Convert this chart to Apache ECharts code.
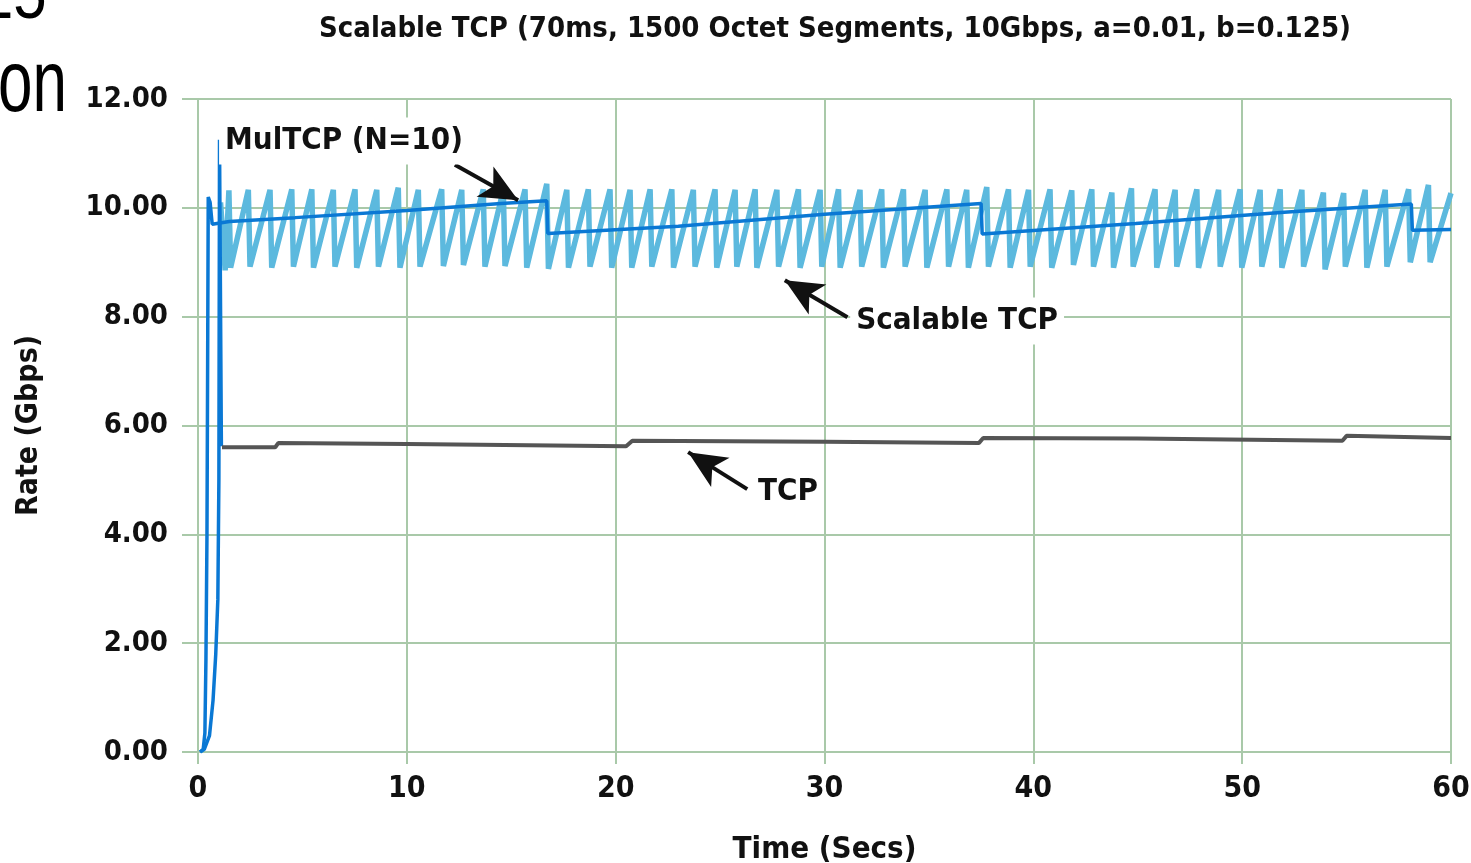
<!DOCTYPE html>
<html><head><meta charset="utf-8">
<script src="https://cdn.jsdelivr.net/npm/echarts@6/dist/echarts.min.js"></script>
<style>html,body{margin:0;padding:0;background:#fff}#c{width:1471px;height:863px}</style>
</head><body><div id="c"></div>
<script>
// ---- data ----
const xTicks = [0, 10, 20, 30, 40, 50, 60];
const yTicks = [0, 2, 4, 6, 8, 10, 12];

// MulTCP (N=10) aggregate rate [time s, Gbps]
const mulTcp = [[0.1,0],[0.25,0.05],[0.33,0.35],[0.38,1.7],[0.43,4.0],[0.46,7.0],[0.49,10.2],
  [0.58,10.1],[0.68,9.7],[1.5,9.75],[4.65,9.82],[10,9.95],[14.5,10.08],[16.7,10.13],
  [16.75,9.53],[23,9.66],[30,9.88],[37.5,10.08],[37.55,9.52],[44.9,9.71],[52,9.92],[58.1,10.07],
  [58.15,9.59],[60,9.6]];

// TCP slow-start overshoot (drawn in blue)
const tcpStart = [[0.1,0],[0.3,0.05],[0.55,0.3],[0.72,0.95],[0.85,1.8],[0.95,2.8],[1.0,5.0],
  [1.03,11.25],[1.07,11.25],[1.12,5.62]];

// TCP steady state
const tcp = [[1.15,5.6],[3.7,5.6],[3.85,5.68],[10,5.66],[20.5,5.62],[20.8,5.72],[30,5.7],
  [37.4,5.68],[37.6,5.77],[45,5.76],[54.8,5.72],[55.0,5.81],[60,5.77]];

// Scalable TCP sawtooth: start, peaks, troughs, end
const scalableStart = [[1.08,10.1],[1.3,8.85]];
const scalablePeaks = [[1.48,10.32],[2.41,10.33],[3.45,10.33],[4.49,10.34],[5.45,10.34],[6.48,10.33],
  [7.52,10.34],[8.56,10.33],[9.59,10.37],[10.55,10.33],[11.67,10.34],[12.63,10.33],[13.66,10.34],
  [14.62,10.33],[15.66,10.34],[16.70,10.44],[17.66,10.33],[18.69,10.34],[19.73,10.34],[20.69,10.33],
  [21.65,10.34],[22.69,10.34],[23.72,10.33],[24.76,10.34],[25.72,10.33],[26.68,10.34],[27.72,10.33],
  [28.75,10.34],[29.79,10.33],[30.67,10.34],[31.70,10.33],[32.74,10.34],[33.78,10.34],[34.82,10.33],
  [35.86,10.34],[36.81,10.33],[37.77,10.38],[38.81,10.34],[39.77,10.33],[40.80,10.34],[41.84,10.32],
  [42.80,10.34],[43.76,10.28],[44.70,10.36],[45.83,10.34],[46.79,10.33],[47.83,10.34],[48.87,10.33],
  [49.90,10.34],[50.86,10.33],[51.82,10.34],[52.86,10.33],[53.89,10.28],[54.86,10.27],[55.89,10.33],
  [56.85,10.33],[57.97,10.34],[58.92,10.42]];
const scalableTroughs = [[1.56,8.9],[2.49,8.92],[3.53,8.9],[4.57,8.92],[5.53,8.9],[6.56,8.92],
  [7.6,8.9],[8.64,8.92],[9.67,8.9],[10.63,8.92],[11.75,8.93],[12.71,8.95],[13.74,8.92],
  [14.7,8.93],[15.74,8.9],[16.78,8.88],[17.74,8.9],[18.77,8.92],[19.81,8.9],[20.77,8.9],
  [21.73,8.92],[22.77,8.9],[23.8,8.92],[24.84,8.9],[25.8,8.92],[26.76,8.9],[27.8,8.92],
  [28.83,8.9],[29.87,8.92],[30.75,8.9],[31.78,8.92],[32.82,8.9],[33.86,8.92],[34.9,8.9],
  [35.94,8.92],[36.89,8.9],[37.85,8.92],[38.89,8.9],[39.85,8.92],[40.88,8.9],[41.92,8.95],
  [42.88,8.92],[43.84,8.9],[44.78,8.92],[45.91,8.9],[46.87,8.92],[47.91,8.9],[48.95,8.92],
  [49.98,8.9],[50.94,8.92],[51.9,8.9],[52.94,8.92],[53.97,8.87],[54.94,8.92],[55.97,8.9],
  [56.93,8.92],[58.05,9.0],[59.0,9.0]];
const scalableEnd = [[60,10.27]];

// ---- build ----
const scalable = scalableStart.concat(scalablePeaks, scalableTroughs, scalableEnd)
  .sort((a, b) => a[0] - b[0]);

const FONT = "'Liberation Sans Narrow','DejaVu Sans Condensed','Roboto Condensed','Arial Narrow','Liberation Sans',sans-serif";
const GRID = '#a9c9a9';
const INK = '#111';

const chart = echarts.init(document.getElementById('c'), null, {renderer: 'canvas'});

const arrowLine = (from, to) => [{coord: from}, {coord: to}];
const tag = (name, coord) => ({
  name, coord, value: name,
  symbol: 'rect', symbolSize: 1, itemStyle: {color: 'rgba(0,0,0,0)'},
  label: {show: true, position: 'inside', formatter: name, color: INK,
    fontFamily: FONT, fontWeight: 'bold', fontSize: 31, backgroundColor: '#fff', padding: [8, 6]}
});

chart.setOption({
  animation: false,
  backgroundColor: '#fff',
  title: {
    text: 'Scalable TCP (70ms, 1500 Octet Segments, 10Gbps, a=0.01, b=0.125)',
    left: 830, top: 10, textAlign: 'center',
    textStyle: {fontFamily: FONT, fontWeight: 'bold', fontSize: 29, color: INK}
  },
  grid: {left: 198, right: 20, top: 99, bottom: 111, containLabel: false, outerBoundsMode: 'none'},
  xAxis: {
    type: 'value', min: xTicks[0], max: xTicks[xTicks.length - 1], interval: 10,
    axisLine: {show: true, onZero: false, lineStyle: {color: GRID, width: 2}},
    axisTick: {show: true, length: 12, lineStyle: {color: GRID, width: 2}},
    splitLine: {show: true, lineStyle: {color: GRID, width: 2}},
    axisLabel: {color: INK, fontFamily: FONT, fontWeight: 'bold', fontSize: 30, margin: 22},
    name: 'Time (Secs)', nameLocation: 'middle', nameGap: 82,
    nameTextStyle: {color: INK, fontFamily: FONT, fontWeight: 'bold', fontSize: 31}
  },
  yAxis: {
    type: 'value', min: yTicks[0], max: yTicks[yTicks.length - 1], interval: 2,
    axisLine: {show: true, lineStyle: {color: GRID, width: 2}},
    axisTick: {show: true, length: 16, lineStyle: {color: GRID, width: 2}},
    splitLine: {show: true, lineStyle: {color: GRID, width: 2}},
    axisLabel: {color: INK, fontFamily: FONT, fontWeight: 'bold', fontSize: 29, margin: 30,
      formatter: v => v.toFixed(2)},
    name: 'Rate (Gbps)', nameLocation: 'middle', nameGap: 154, nameRotate: 90,
    nameTextStyle: {color: INK, fontFamily: FONT, fontWeight: 'bold', fontSize: 30}
  },
  graphic: [
    {type: 'text', x: -20, y: -38, z: 100, scaleY: 1.2, style: {text: '25', fontSize: 60, fontFamily: "'Liberation Sans',Arial,sans-serif", fill: '#000'}},
    {type: 'text', x: -2, y: 44, z: 100, scaleY: 1.4, style: {text: 'on', fontSize: 62, fontFamily: "'Liberation Sans',Arial,sans-serif", fill: '#000'}}
  ],
  series: [
    {name: 'Scalable TCP', type: 'line', data: scalable, showSymbol: false, z: 3,
      lineStyle: {color: '#5cb9de', width: 5.5}, itemStyle: {color: '#5cb9de'}},
    {name: 'MulTCP (N=10)', type: 'line', data: mulTcp, showSymbol: false, z: 4,
      lineStyle: {color: '#0a78d4', width: 3.5}, itemStyle: {color: '#0a78d4'}},
    {name: 'TCP start', type: 'line', data: tcpStart, showSymbol: false, z: 4,
      lineStyle: {color: '#0a78d4', width: 3.5}, itemStyle: {color: '#0a78d4'}},
    {name: 'TCP', type: 'line', data: tcp, showSymbol: false, z: 4,
      lineStyle: {color: '#555', width: 4}, itemStyle: {color: '#555'},
      markLine: {
        silent: true, symbol: ['none', 'arrow'], symbolSize: [26, 38],
        label: {show: false},
        lineStyle: {color: '#111', width: 4, type: 'solid'},
        emphasis: {disabled: true},
        data: [
          arrowLine([12.3, 10.79], [15.33, 10.14]),
          arrowLine([31.1, 7.99], [28.1, 8.67]),
          arrowLine([26.3, 4.83], [23.47, 5.51])
        ]
      },
      markPoint: {
        silent: true, z: 10,
        data: [
          tag('MulTCP (N=10)', [6.99, 11.23]),
          tag('Scalable TCP', [36.35, 7.92]),
          tag('TCP', [28.25, 4.78])
        ]
      }
    }
  ]
});
</script></body></html>
